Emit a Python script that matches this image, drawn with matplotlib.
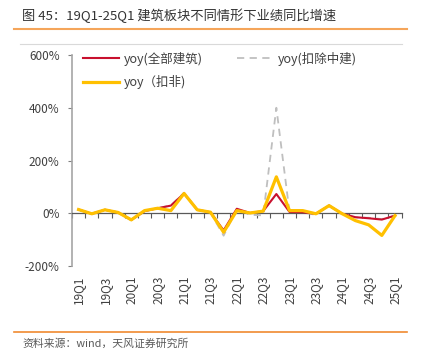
#!/usr/bin/env python3

import matplotlib
matplotlib.use('Agg')
import matplotlib.pyplot as plt
from matplotlib.lines import Line2D

plt.rcParams['font.family'] = ['Noto Sans CJK SC', 'DejaVu Sans']

quarters = []
for yr in range(19, 26):
    for q in range(1, 5):
        quarters.append('%dQ%d' % (yr, q))
quarters = quarters[:25]

# yoy, %
yoy_all = [14, -2, 13, 3, -25, 8, 19, 29, 75, 13, 4, -65, 17, 1, 8,
           73, 5, 4, -2, 29, -2, -15, -19, -24, -9]
yoy_ex_cscec = [14, -2, 14, 2, -27, 8, 19, 30, 78, 13, 3, -85, 16, -6, -8,
                400, 4, 3, -6, 29, -3, -16, -17, -22, -9]
yoy_deducted = [14, -2, 13, 3, -25, 10, 19, 10, 75, 13, 4, -72, 10, 1, 8,
                138, 10, 10, -2, 29, -2, -28, -44, -84, -9]

W, H = 430, 360
fig = plt.figure(figsize=(W / 100, H / 100), dpi=100)


def fx(px):
    return px / W


def fy(py):
    return 1 - py / H


# header / footer decorations
fig.text(fx(22), fy(16), '图 45：19Q1-25Q1 建筑板块不同情形下业绩同比增速',
         fontsize=9.5, color='#333333', va='center', ha='left')
fig.add_artist(Line2D([fx(14), fx(407)], [fy(29), fy(29)], color='#F5A55A', lw=1.5))
fig.add_artist(Line2D([fx(20), fx(402)], [fy(44), fy(44)], color='#D9D9D9', lw=0.8))
fig.add_artist(Line2D([fx(14), fx(407)], [fy(331.5), fy(331.5)], color='#F08A30', lw=1.2))
fig.text(fx(22), fy(344), '资料来源：wind，天风证券研究所',
         fontsize=7.8, color='#595959', va='center', ha='left')

left, right, top, bottom = 72, 401.6, 55, 266
ax = fig.add_axes([fx(left), fy(bottom), fx(right - left), (bottom - top) / H])

x = list(range(len(quarters)))
ax.plot(x, yoy_ex_cscec, color='#BFBFBF', lw=1.3, ls=(0, (4, 3)),
        label='yoy(扣除中建)', zorder=2)
ax.plot(x, yoy_all, color='#C8102E', lw=1.5, label='yoy(全部建筑)', zorder=3)
ax.plot(x, yoy_deducted, color='#FFC000', lw=2.3, label='yoy（扣非)', zorder=4)

ax.set_xlim(-0.5, len(quarters) - 0.5)
ax.set_ylim(-200, 600)
ax.set_yticks([-200, 0, 200, 400, 600])
ax.set_yticklabels(['-200%', '0%', '200%', '400%', '600%'])
ax.tick_params(axis='y', direction='out', length=3, width=0.8, color='#808080',
               labelsize=8.5, labelcolor='#404040', pad=6)

for s in ['top', 'right']:
    ax.spines[s].set_visible(False)
ax.spines['left'].set_color('#A6A6A6')
ax.spines['left'].set_linewidth(1.2)
ax.spines['bottom'].set_position(('data', 0))
ax.spines['bottom'].set_color('#595959')
ax.spines['bottom'].set_linewidth(0.9)

# boundary ticks on the zero line
ax.set_xticks([i - 0.5 for i in range(len(quarters) + 1)])
ax.set_xticklabels([])
ax.tick_params(axis='x', direction='out', length=3.5, width=0.8, color='#595959')

# category labels at bottom
sec = ax.secondary_xaxis('bottom')
sec.set_xticks(x[::2])
sec.set_xticklabels(quarters[::2], rotation=90)
sec.tick_params(length=0, labelsize=8.5, labelcolor='#404040', pad=7)
sec.spines['bottom'].set_visible(False)

handles, labels = ax.get_legend_handles_labels()
order = [1, 2, 0]
ax.legend([handles[i] for i in order], [labels[i] for i in order],
          ncol=2, loc='upper left', bbox_to_anchor=(0.018, 1.04),
          frameon=False, fontsize=9, handlelength=2.9, handletextpad=0.4,
          columnspacing=2.7, labelspacing=0.75, borderaxespad=0,
          labelcolor='#404040')

fig.savefig('out.png', dpi=100)
